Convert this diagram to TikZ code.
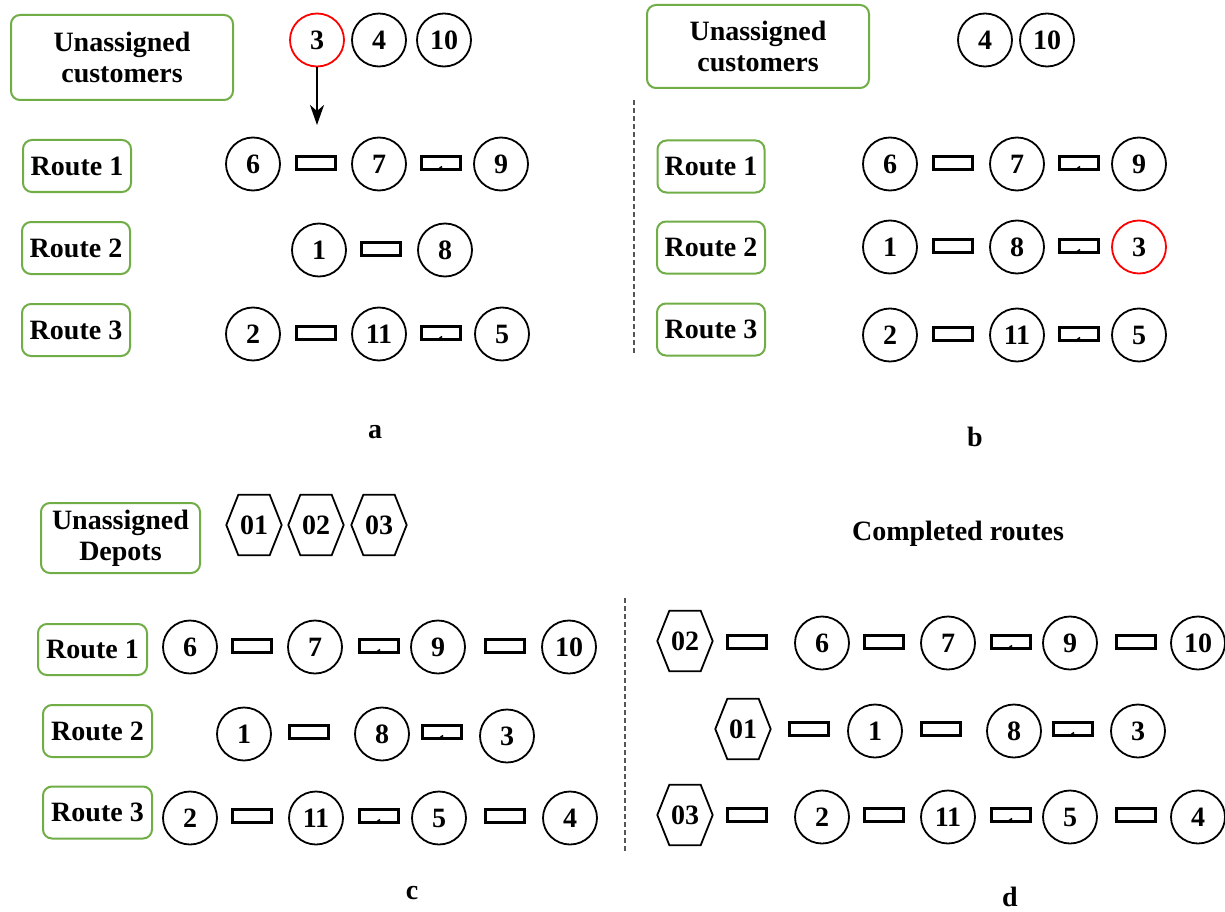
\documentclass[tikz,border=0pt]{standalone}
\usepackage{fontspec}
\setmainfont{Liberation Serif}
\usetikzlibrary{arrows.meta,shapes.geometric}
\definecolor{boxgreen}{HTML}{70AD47}
\definecolor{newred}{HTML}{FF0000}
\definecolor{sepgray}{HTML}{555555}

% draws the depot hexagon around a named node
\newcommand{\depotframe}[1]{%
  \draw[line width=1.8pt, line join=miter]
    (#1.west) -- ([xshift=12pt]#1.north west) -- ([xshift=-12pt]#1.north east)
    -- (#1.east) -- ([xshift=-12pt]#1.south east) -- ([xshift=12pt]#1.south west) -- cycle;}

\begin{document}
\begin{tikzpicture}[x=1pt,y=-1pt,
  txt/.style={font=\bfseries\fontsize{28}{31}\selectfont},
  cust/.style={ellipse, draw, line width=1.8pt, minimum width=54pt, minimum height=53pt, inner sep=0pt, txt},
  picked/.style={cust, draw=newred},
  link/.style={rectangle, draw, line width=2.2pt, minimum width=39pt, minimum height=13pt, inner sep=0pt},
  linkt/.style={link, path picture={\draw[line width=1.6pt]
      ([xshift=-3pt]path picture bounding box.south) -- ++(4pt,3pt);}},
  tag/.style={rectangle, draw=boxgreen, line width=2pt, rounded corners=9pt, align=center, inner sep=0pt, txt},
  depot/.style={rectangle, minimum width=55pt, minimum height=60pt, inner sep=0pt, txt},
  sep/.style={draw=sepgray, line width=1.2pt, dash pattern=on 5pt off 3pt}]

\useasboundingbox (0,0) rectangle (1225,912);

% ---------------- panel a ----------------
\node[tag, minimum width=222pt, minimum height=85pt] (aU) at (122,57.5) {Unassigned\\customers};
\node[picked] (a3) at (317,40) {3};
\node[cust] (a4) at (379,40) {4};
\node[cust] (a10) at (444,40) {10};
\coordinate (adrop) at (317,125);
\draw[line width=1.8pt, -{Stealth[length=20pt,width=14pt,inset=6pt]}] (a3) -- (adrop);

\node[tag, minimum width=108pt, minimum height=52pt] (aR1) at (77,166) {Route 1};
\node[tag, minimum width=108pt, minimum height=52pt] (aR2) at (76,248) {Route 2};
\node[tag, minimum width=108pt, minimum height=52pt] (aR3) at (76,330) {Route 3};

\node[cust] (a6) at (253,164) {6};
\node[link] (al1) at (316,163) {};
\node[cust] (a7) at (379,164) {7};
\node[linkt] (al2) at (441,163) {};
\node[cust] (a9) at (501,164) {9};

\node[cust] (a1) at (319,250) {1};
\node[link] (al3) at (381,249) {};
\node[cust] (a8) at (445,250) {8};

\node[cust] (a2) at (253,334) {2};
\node[link] (al4) at (316,333) {};
\node[cust] (a11) at (379,334) {11};
\node[linkt] (al5) at (441,333) {};
\node[cust] (a5) at (502,334) {5};

\node[txt] (la) at (375,432) {a};

\coordinate (s1top) at (634,100);
\coordinate (s1bot) at (634,355);
\draw[sep] (s1top) -- (s1bot);

% ---------------- panel b ----------------
\node[tag, minimum width=222pt, minimum height=83pt] (bU) at (758,46.5) {Unassigned\\customers};
\node[cust] (b4) at (985,40) {4};
\node[cust] (b10) at (1047,40) {10};

\node[tag, minimum width=107pt, minimum height=52pt] (bR1) at (711,166.5) {Route 1};
\node[tag, minimum width=108pt, minimum height=52pt] (bR2) at (711,247.5) {Route 2};
\node[tag, minimum width=108pt, minimum height=52pt] (bR3) at (711,329.5) {Route 3};

\node[cust] (b6) at (890,164) {6};
\node[link] (bl1) at (953,163) {};
\node[cust] (b7) at (1017,164) {7};
\node[linkt] (bl2) at (1079,163) {};
\node[cust] (b9) at (1139,164) {9};

\node[cust] (b1) at (890,247) {1};
\node[link] (bl3) at (953,246) {};
\node[cust] (b8) at (1017,247) {8};
\node[linkt] (bl4) at (1079,246) {};
\node[picked] (b3) at (1139,247) {3};

\node[cust] (b2) at (890,335) {2};
\node[link] (bl5) at (953,334) {};
\node[cust] (b11) at (1017,335) {11};
\node[linkt] (bl6) at (1079,334) {};
\node[cust] (b5) at (1139,335) {5};

\node[txt] (lb) at (975,437) {b};

% ---------------- panel c ----------------
\node[tag, minimum width=159pt, minimum height=70pt] (cU) at (120.5,538) {Unassigned\\Depots};
\node[depot] (c01) at (254,525) {01};
\node[depot] (c02) at (316,525) {02};
\node[depot] (c03) at (379,525) {03};
\depotframe{c01}\depotframe{c02}\depotframe{c03}

\node[tag, minimum width=109pt, minimum height=51pt] (cR1) at (92.5,649.5) {Route 1};
\node[tag, minimum width=109pt, minimum height=52pt] (cR2) at (97.5,731) {Route 2};
\node[tag, minimum width=109pt, minimum height=52pt] (cR3) at (97.5,812.5) {Route 3};

\node[cust] (c6) at (190,647) {6};
\node[link] (cl1) at (252,646) {};
\node[cust] (c7) at (315,647) {7};
\node[linkt] (cl2) at (379,646) {};
\node[cust] (c9) at (438,647) {9};
\node[link] (cl3) at (505,646) {};
\node[cust] (c10) at (569,647) {10};

\node[cust] (c1) at (244,734) {1};
\node[link] (cl4) at (309,732) {};
\node[cust] (c8) at (382,734) {8};
\node[linkt] (cl5) at (442,732) {};
\node[cust] (c3) at (507,736) {3};

\node[cust] (c2) at (190,818) {2};
\node[link] (cl6) at (252,816) {};
\node[cust] (c11) at (316,818) {11};
\node[linkt] (cl7) at (379,816) {};
\node[cust] (c5) at (439,818) {5};
\node[link] (cl8) at (505,816) {};
\node[cust] (c4) at (570,818) {4};

\node[txt] (lc) at (412,893) {c};

\coordinate (s2top) at (625,598);
\coordinate (s2bot) at (625,852);
\draw[sep] (s2top) -- (s2bot);

% ---------------- panel d ----------------
\node[txt] (dT) at (958,534) {Completed routes};

\node[depot] (d02) at (685,641) {02};
\node[link] (dl1) at (747,642) {};
\node[cust] (d6) at (822,643) {6};
\node[link] (dl2) at (884,642) {};
\node[cust] (d7) at (948,643) {7};
\node[linkt] (dl3) at (1011,642) {};
\node[cust] (d9) at (1070,643) {9};
\node[link] (dl4) at (1136,642) {};
\node[cust] (d10) at (1198,643) {10};

\node[depot] (d01) at (743,729) {01};
\node[link] (dl5) at (809,729) {};
\node[cust] (d1) at (875,731) {1};
\node[link] (dl6) at (941,729) {};
\node[cust] (d8) at (1014,731) {8};
\node[linkt] (dl7) at (1073,729) {};
\node[cust] (d3) at (1138,731) {3};

\node[depot] (d03) at (685,815) {03};
\node[link] (dl8) at (747,815) {};
\node[cust] (d2) at (822,817) {2};
\node[link] (dl9) at (884,815) {};
\node[cust] (d11) at (948,817) {11};
\node[linkt] (dl10) at (1011,815) {};
\node[cust] (d5) at (1070,817) {5};
\node[link] (dl11) at (1136,815) {};
\node[cust] (d4) at (1198,817) {4};

\depotframe{d01}\depotframe{d02}\depotframe{d03}

\node[txt] (ld) at (1010,897) {d};

\end{tikzpicture}
\end{document}
